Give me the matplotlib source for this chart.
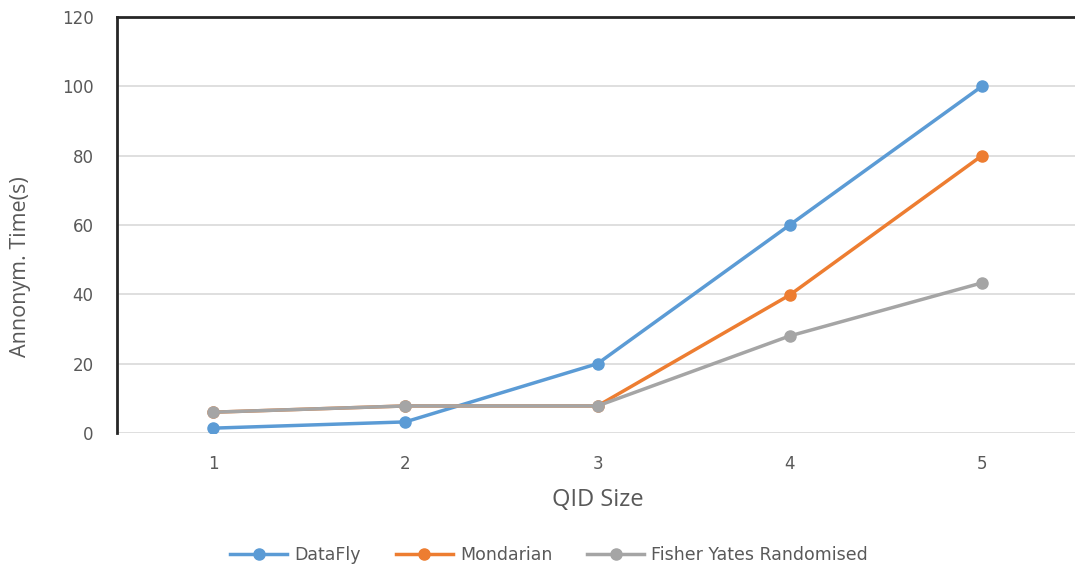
import matplotlib
matplotlib.use("Agg")
import matplotlib.pyplot as plt

qid = [1, 2, 3, 4, 5]
datafly = [1.4, 3.2, 20, 60, 100]
mondarian = [6, 7.8, 7.8, 39.8, 80]
fisher = [6, 7.8, 7.8, 28, 43.3]

plt.rcParams['font.family'] = ['DejaVu Sans']
txt = '#595959'

fig = plt.figure(figsize=(10.75, 5.7), dpi=100)
ax = fig.add_axes([117/1075, 1 - 433/570, (1078 - 117)/1075, (433 - 17)/570])

ax.plot(qid, datafly, color='#5B9BD5', lw=2.5, marker='o', ms=8, label='DataFly', zorder=3)
ax.plot(qid, mondarian, color='#ED7D31', lw=2.5, marker='o', ms=8, label='Mondarian', zorder=4)
ax.plot(qid, fisher, color='#A5A5A5', lw=2.5, marker='o', ms=8, label='Fisher Yates Randomised', zorder=5)

ax.set_xlim(0.5, 5.5)
ax.set_ylim(0, 120)
ax.set_yticks(range(0, 121, 20))
ax.set_xticks(qid)
ax.grid(axis='y', color='#D9D9D9', lw=1.2)
ax.set_axisbelow(True)

for s in ['left', 'top', 'right']:
    ax.spines[s].set_color('#262626')
    ax.spines[s].set_linewidth(2)
ax.spines['bottom'].set_visible(False)
ax.tick_params(length=0, colors=txt, labelsize=12)
ax.tick_params(axis='y', pad=17)
ax.tick_params(axis='x', pad=16)

ax.set_xlabel('QID Size', fontsize=17, color=txt, family='Open Sans')
ax.xaxis.set_label_coords(0.5, -(500 - 433) / 416, transform=ax.transAxes)
ax.xaxis.label.set_verticalalignment('center')
ax.set_ylabel('Annonym. Time(s)', fontsize=15.5, color=txt, family='Open Sans')
ax.yaxis.set_label_coords((21 - 117) / 961, (433 - 267) / 416)
ax.yaxis.label.set_verticalalignment('center')

fig.legend(loc='center', bbox_to_anchor=(549/1075, 1 - 555/570), ncol=3, frameon=False,
           fontsize=12.5, labelcolor=txt, handlelength=3.3, columnspacing=2.0, handletextpad=0.4)

fig.savefig('out.png', dpi=100)
